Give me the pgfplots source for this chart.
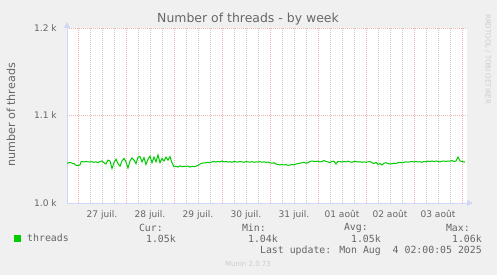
\documentclass[border=0pt]{standalone}
\usepackage{pgfplots}
\pgfplotsset{compat=1.18}
\usepackage{fontspec}
\setmainfont{DejaVu Sans}
\newfontfamily\mono{DejaVu Sans Mono}
\usetikzlibrary{arrows.meta}
\definecolor{bggray}{HTML}{F0F0F0}
\definecolor{fontcol}{HTML}{666666}
\definecolor{axiscol}{HTML}{CFD6F8}
\definecolor{gridred}{HTML}{EEB4B4}
\definecolor{gridgray}{HTML}{C8C8C8}
\definecolor{threadgreen}{HTML}{00CC00}
\definecolor{lightcol}{HTML}{CCCCCC}
\pgfplotstableread{
h v
-5.5 1046
-5 1045.5
-4 1046.5
-3 1045.5
-2 1045
-1 1043
0 1043
1 1043.5
1.5 1047
2 1047.5
3 1047
4 1047.5
5 1047
6 1046.8
7 1047.2
8 1046.5
9 1047
10 1046
11 1047.5
12 1048
13 1046
14 1044.5
15 1049
16 1048
17 1039.5
18 1046
19 1050
20 1045
21 1042
22 1048
23 1051
24 1047
25 1040
26 1048
27 1051.5
28 1049
29 1045
30 1052.5
31 1053
32 1047
33 1052
34 1044
35 1050
36 1053.5
37 1046
38 1052.5
39 1047
40 1055
41 1046
42 1051
43 1048
44 1052.5
45 1049
46 1053
47 1046
48 1041.5
49 1042
50 1041
51 1042.5
52 1041.5
53 1042
54 1041.8
55 1042.2
56 1041
57 1042
58 1041.5
59 1042
60 1043
61 1044.5
62 1045.5
63 1045.8
64 1046
65 1046.5
66 1046
67 1047
68 1047.5
69 1046.8
70 1047.5
71 1047
72 1048
73 1047
74 1047.5
75 1046.8
76 1047.2
77 1046.5
78 1047.5
79 1047
80 1046.8
81 1047.5
82 1047
83 1046.5
84 1047.3
85 1047
86 1046.7
87 1047.3
88 1046.5
89 1047
90 1046.8
91 1047.2
92 1046.6
93 1047
94 1046.5
95 1046.8
96 1046
97 1045.5
98 1046
99 1044.5
100 1044
101 1043.5
102 1044
103 1043.5
104 1043.8
105 1043
106 1043.5
107 1044
108 1043.5
109 1044.5
110 1045
111 1045.5
112 1046
113 1046.5
114 1045.5
115 1046
116 1047.5
117 1048
118 1047.5
119 1047.5
120 1047.8
121 1047
122 1047.5
123 1048.5
124 1047.5
125 1047
126 1046
127 1047.5
128 1047.8
129 1044.5
130 1047.5
131 1047.3
132 1046.8
133 1047.5
134 1047
135 1047.8
136 1047
137 1046.5
138 1047.5
139 1047.5
140 1046.8
141 1047.2
142 1046.5
143 1047
144 1046.5
145 1047
146 1047.5
147 1046
148 1045
149 1046.5
150 1044
151 1045
152 1043.5
153 1045.5
154 1046
155 1045
156 1044.5
157 1045
158 1045.5
159 1045.2
160 1046
161 1046.5
162 1046
163 1046.5
164 1047
165 1046.8
166 1047
167 1047.5
168 1046.8
169 1047.5
170 1047
171 1047.2
172 1046.5
173 1047.5
174 1047
175 1047.8
176 1047.5
177 1048
178 1047.2
179 1048
180 1047.5
181 1047
182 1047.8
183 1048
184 1047.5
185 1048
186 1047.8
187 1048.5
188 1047.5
189 1048
190 1052.5
191 1048
192 1047.5
193 1047
193.5 1046.8
}\threads
\begin{document}
\begin{tikzpicture}
\fill[bggray] (0,0) rectangle (497bp,275bp);
\useasboundingbox (0,0) rectangle (497bp,275bp);
\begin{axis}[
  at={(67bp,72bp)}, anchor=south west,
  scale only axis, width=400bp, height=175bp,
  xmin=-5.5, xmax=194.5, ymin=1000, ymax=1200,
  axis lines=left,
  axis line style={draw=axiscol, line width=1bp, shorten >=-6bp, -{Triangle[length=6bp,width=6bp]}},
  axis background/.style={fill=white},
  tick style={draw=none},
  xtick={12,36,...,180},
  xticklabels={27 juil.,28 juil.,29 juil.,30 juil.,31 juil.,01 août,02 août,03 août},
  minor xtick={6,18,30,42,54,66,78,90,102,114,126,138,150,162,174,186},
  extra x ticks={0,24,...,192},
  extra x tick labels={},
  extra x tick style={grid=major, major grid style={draw=gridred, dash pattern=on 1bp off 1bp, line width=0.6bp}},
  xmajorgrids, xminorgrids,
  major grid style={draw=gridgray, dash pattern=on 1bp off 1bp, line width=0.6bp},
  minor grid style={draw=gridgray, dash pattern=on 1bp off 1bp, line width=0.6bp},
  ytick={1000,1100,1200},
  yticklabels={1.0 k,1.1 k,1.2 k},
  ymajorgrids,
  y grid style={draw=gridred, dash pattern=on 1bp off 1bp, line width=0.6bp},
  ticklabel style={font=\fontsize{9.1}{11}\selectfont, text=fontcol},
  yticklabel style={inner sep=0pt, xshift=-8bp},
  xticklabel style={inner sep=0pt, yshift=-5bp},
  legend style={at={(axis description cs:-0.1325,-0.2057)}, anchor=west, draw=none, fill=none,
    font=\mono\fontsize{9.9}{11}\selectfont, text=fontcol, inner sep=0pt,
    nodes={inner sep=0pt}},
  legend cell align=left,
]
\addplot[color=threadgreen, line width=1bp,
  legend image code/.code={\fill[threadgreen] (0bp,-3bp) rectangle (6bp,3bp); \path (12bp,0bp);}]
  table[x=h, y=v] {\threads};
\addlegendentry{threads}
\end{axis}
\node[font=\fontsize{12.5}{14}\selectfont, text=fontcol] at (248bp,256bp) {Number of threads - by week};
\node[rotate=90, font=\fontsize{11.2}{13}\selectfont, text=fontcol] at (11bp,160bp) {number of threads};
\node[rotate=-90, font=\fontsize{7}{8}\selectfont, text=lightcol, anchor=west, inner sep=0pt] at (488bp,261bp) {RRDTOOL / TOBI OETIKER};
\begin{scope}[every node/.style={font=\mono\fontsize{9.9}{11}\selectfont, text=fontcol, inner sep=0pt, anchor=east}]
\node at (163bp,47bp) {Cur:};
\node at (266bp,47bp) {Min:};
\node at (368bp,47bp) {Avg:};
\node at (470bp,47bp) {Max:};
\node at (176bp,36bp) {1.05k};
\node at (278bp,36bp) {1.04k};
\node at (381bp,36bp) {1.05k};
\node at (482bp,36bp) {1.06k};
\node at (482bp,24bp) {Last update: Mon Aug\ \ 4 02:00:05 2025};
\end{scope}
\node[font=\fontsize{7}{8}\selectfont, text=lightcol] at (248bp,11bp) {Munin 2.0.73};
\end{tikzpicture}
\end{document}
